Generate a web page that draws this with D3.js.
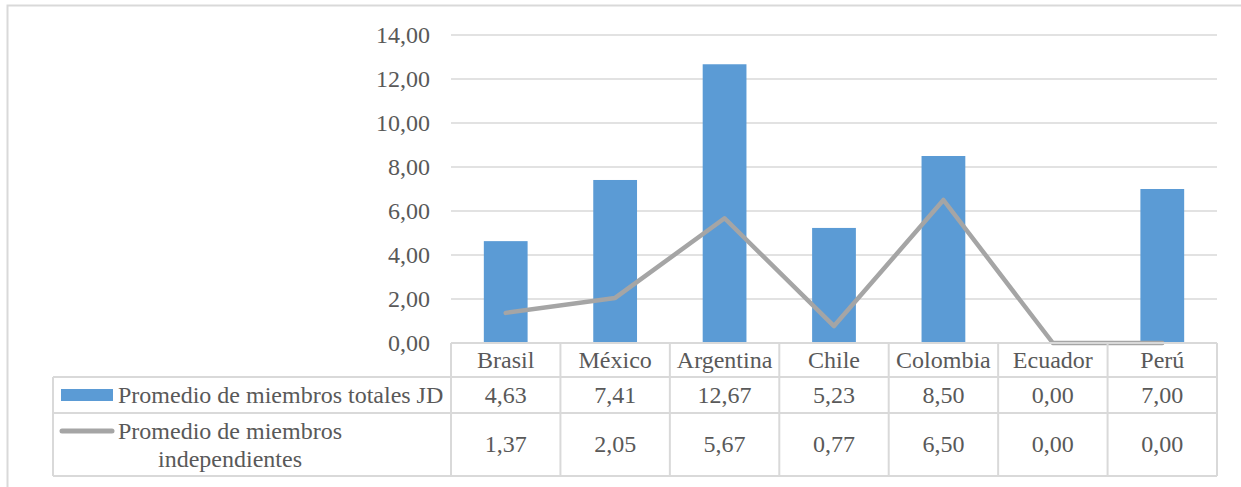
<!DOCTYPE html>
<html><head><meta charset="utf-8">
<script src="https://cdn.jsdelivr.net/npm/d3@7"></script>
<style>
html,body{margin:0;padding:0;background:#fff;}
text{font-family:"Liberation Serif","Times New Roman",serif;fill:#595959;}
</style></head>
<body><svg id="c" width="1241" height="487"></svg>
<script>
const categories = ["Brasil","México","Argentina","Chile","Colombia","Ecuador","Perú"];
const totalJD = [4.63,7.41,12.67,5.23,8.50,0.00,7.00];
const independientes = [1.37,2.05,5.67,0.77,6.50,0.00,0.00];
const yTicks = [0,2,4,6,8,10,12,14];
const seriesNames = ["Promedio de miembros totales JD", ["Promedio de miembros","independientes"]];

const fmt = v => v.toFixed(2).replace(".", ",");
const svg = d3.select("#c");
const gridColor = "#d9d9d9";
const barColor = "#5b9bd5";
const lineColor = "#a5a5a5";
const fs = 24;

const plotLeft = 451, plotRight = 1217, plotTop = 35, zeroY = 343;
const tableLeft = 53;
const rowCat = [343, 377], row1 = [377, 413], row2 = [413, 476];

const x = d3.scaleBand().domain(categories).range([plotLeft, plotRight]).paddingInner(0.6).paddingOuter(0.3);
const y = d3.scaleLinear().domain([0, 14]).range([zeroY, plotTop]);
const step = x.step();
const colStart = c => plotLeft + categories.indexOf(c) * step;

// outer border
svg.append("path").attr("d", "M7.5,487 L7.5,5.5 L1241,5.5").attr("fill","none")
  .attr("stroke", gridColor).attr("stroke-width", 2);

// gridlines
svg.append("g").selectAll("line").data(yTicks.filter(t => t > 0)).join("line")
  .attr("x1", plotLeft).attr("x2", plotRight).attr("y1", d => y(d)).attr("y2", d => y(d))
  .attr("stroke", gridColor).attr("stroke-width", 1.5);

// y labels
svg.append("g").selectAll("text").data(yTicks).join("text")
  .attr("x", 430).attr("y", d => y(d)).attr("dy", "0.33em").attr("text-anchor","end")
  .attr("font-size", fs).text(d => fmt(d));

// bars
svg.append("g").selectAll("rect").data(categories).join("rect")
  .attr("x", d => x(d)).attr("width", x.bandwidth())
  .attr("y", (d,i) => y(totalJD[i])).attr("height", (d,i) => zeroY - y(totalJD[i]))
  .attr("fill", barColor);

// line
const line = d3.line().x((d,i) => x(categories[i]) + x.bandwidth()/2).y(d => y(d));
svg.append("path").datum(independientes).attr("d", line).attr("fill","none")
  .attr("stroke", lineColor).attr("stroke-width", 4.5).attr("stroke-linejoin","round").attr("stroke-linecap","round");

// table
const tg = svg.append("g").attr("stroke", gridColor).attr("stroke-width", 2).attr("fill","none");
tg.append("line").attr("x1", plotLeft).attr("x2", plotRight).attr("y1", rowCat[0]).attr("y2", rowCat[0]);
tg.append("line").attr("x1", tableLeft).attr("x2", plotRight).attr("y1", row1[0]).attr("y2", row1[0]);
tg.append("line").attr("x1", tableLeft).attr("x2", plotRight).attr("y1", row2[0]).attr("y2", row2[0]);
tg.append("line").attr("x1", tableLeft).attr("x2", plotRight).attr("y1", row2[1]).attr("y2", row2[1]);
const vx = categories.map(c => colStart(c)).concat([plotRight]);
tg.selectAll("line.v").data(vx).join("line").attr("class","v")
  .attr("x1", d => d).attr("x2", d => d).attr("y1", rowCat[0]).attr("y2", row2[1]);
tg.append("line").attr("x1", tableLeft).attr("x2", tableLeft).attr("y1", row1[0]).attr("y2", row2[1]);

// category labels
svg.append("g").selectAll("text").data(categories).join("text")
  .attr("x", d => colStart(d) + step/2).attr("y", (rowCat[0]+rowCat[1])/2).attr("dy","0.33em")
  .attr("text-anchor","middle").attr("font-size", fs).text(d => d);

// values rows
svg.append("g").selectAll("text").data(totalJD).join("text")
  .attr("x", (d,i) => colStart(categories[i]) + step/2).attr("y", (row1[0]+row1[1])/2).attr("dy","0.33em")
  .attr("text-anchor","middle").attr("font-size", fs).text(d => fmt(d));
svg.append("g").selectAll("text").data(independientes).join("text")
  .attr("x", (d,i) => colStart(categories[i]) + step/2).attr("y", (row2[0]+row2[1])/2).attr("dy","0.33em")
  .attr("text-anchor","middle").attr("font-size", fs).text(d => fmt(d));

// legend keys
svg.append("rect").attr("x", 61).attr("y", 389).attr("width", 52).attr("height", 12).attr("fill", barColor);
svg.append("line").attr("x1", 62).attr("x2", 112).attr("y1", 431).attr("y2", 431)
  .attr("stroke", lineColor).attr("stroke-width", 5).attr("stroke-linecap","round");

// legend labels
svg.append("text").attr("x", 118).attr("y", (row1[0]+row1[1])/2).attr("dy","0.33em")
  .attr("font-size", fs).text(seriesNames[0]);
const l2 = svg.append("text").attr("text-anchor","middle").attr("font-size", fs);
seriesNames[1].forEach((s, i) => {
  l2.append("tspan").attr("x", 230).attr("y", 431 + i*28).attr("dy","0.33em").text(s);
});
</script></body></html>
